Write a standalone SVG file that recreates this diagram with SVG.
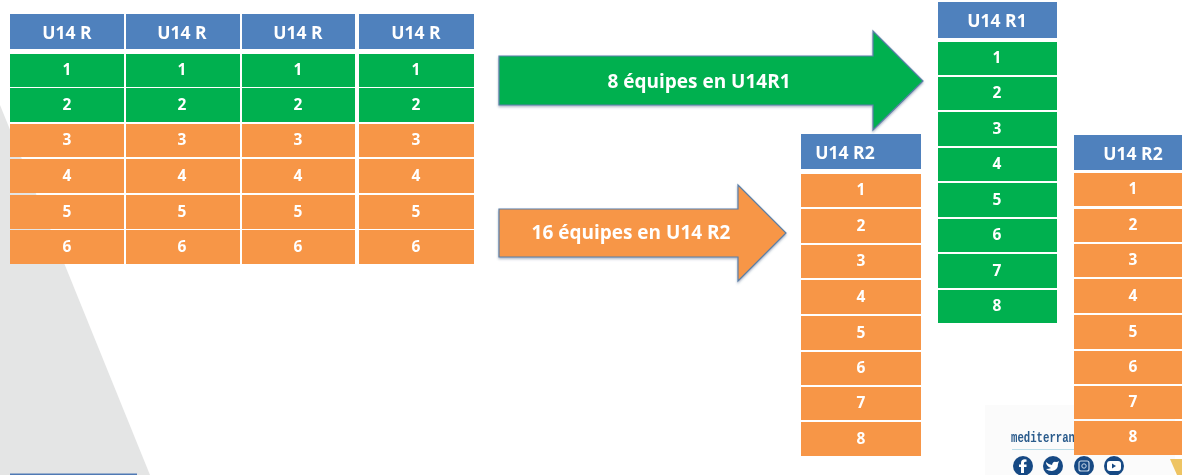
<svg xmlns="http://www.w3.org/2000/svg" width="1182" height="475" viewBox="0 0 1182 475">
<style>
text{font-family:"Open Sans","Noto Sans","Liberation Sans",sans-serif;font-weight:700;fill:#fff;text-anchor:middle;dominant-baseline:central}
.h{fill:#4f81bd}.g{fill:#00b050}.o{fill:#f79646}
.c{font-size:15.500px}.t{font-size:19px}
.hd{font-size:17.500px}
.ar{stroke:#5b7fa8;stroke-width:1.2;filter:url(#s)}
.ic{fill:#174a84}
</style>
<defs><filter id="s" x="-5%" y="-5%" width="110%" height="115%"><feDropShadow dx="0" dy="1.5" stdDeviation="1" flood-color="#40587a" flood-opacity=".45"/></filter>
<filter id="b"><feGaussianBlur stdDeviation=".6"/></filter></defs>
<rect width="1182" height="475" fill="#fff"/>
<polygon points="0,105 150,475 0,475" fill="#e4e5e5"/>
<rect x="10" y="473.500" width="127" height="1.500" fill="#2a5fa8" opacity=".8" filter="url(#b)"/>
<rect x="985" y="405" width="190" height="70" fill="#fbfbfb"/>
<polygon points="1170,459 1182,459 1182,475 1177,475" fill="#eec463"/>
<g id="logo" filter="url(#b)">
<text x="1011" y="438" textLength="64" lengthAdjust="spacingAndGlyphs" style="font-family:'Liberation Mono',monospace;font-size:14px;fill:#2a5b8c;text-anchor:start">mediterran</text>
<rect x="1012" y="449" width="62" height="1" fill="#bcdde8"/>
<circle class="ic" cx="1023" cy="466" r="10"/><circle class="ic" cx="1053" cy="466" r="10"/><circle class="ic" cx="1084" cy="466" r="10"/><circle class="ic" cx="1114" cy="466" r="10"/>
<path d="M1024 473v-6h2.500v-2.500h-2.500v-1.500q0-1.500 2.500-1.200v-2.300q-5.500-.8-5.500 3.500v1.500h-2v2.500h2v6z" fill="#fff"/>
<path d="M1046 462q3 3 6 3q1-4 4-3q2 0 3-1l-1 3q0 6-6 7q-4 0-6-2q3 0 5-1q-5-2-5-6z" fill="#fff"/>
<rect x="1079" y="461" width="10" height="10" rx="2" fill="none" stroke="#c9d8e8" stroke-width="1.200"/><circle cx="1084" cy="466" r="2.200" fill="none" stroke="#c9d8e8"/>
<rect x="1107" y="461" width="14" height="10" rx="3" fill="#fff"/><path d="M1112 463.500l4 2.500-4 2.500z" fill="#174a84"/>
</g>
<g id="table-u14r" filter="url(#b)">
<g id="head-r"><rect class="h" x="10" y="14" width="114" height="35"/><rect class="h" x="126" y="14" width="114" height="35"/><rect class="h" x="242" y="14" width="113" height="35"/><rect class="h" x="359" y="14" width="115" height="35"/>
<text class="hd" x="67" y="32">U14 R</text><text class="hd" x="182" y="32">U14 R</text><text class="hd" x="298" y="32">U14 R</text><text class="hd" x="416" y="32">U14 R</text></g>
<g id="row-1"><rect class="g" x="10" y="54" width="114" height="33"/><rect class="g" x="126" y="54" width="114" height="33"/><rect class="g" x="242" y="54" width="113" height="33"/><rect class="g" x="359" y="54" width="115" height="33"/>
<text class="c" x="67" y="69">1</text><text class="c" x="182" y="69">1</text><text class="c" x="298" y="69">1</text><text class="c" x="416" y="69">1</text></g>
<g id="row-2"><rect class="g" x="10" y="88" width="114" height="34"/><rect class="g" x="126" y="88" width="114" height="34"/><rect class="g" x="242" y="88" width="113" height="34"/><rect class="g" x="359" y="88" width="115" height="34"/>
<text class="c" x="67" y="104">2</text><text class="c" x="182" y="104">2</text><text class="c" x="298" y="104">2</text><text class="c" x="416" y="104">2</text></g>
<g id="row-3"><rect class="o" x="10" y="124" width="114" height="33"/><rect class="o" x="126" y="124" width="114" height="33"/><rect class="o" x="242" y="124" width="113" height="33"/><rect class="o" x="359" y="124" width="115" height="33"/>
<text class="c" x="67" y="139">3</text><text class="c" x="182" y="139">3</text><text class="c" x="298" y="139">3</text><text class="c" x="416" y="139">3</text></g>
<g id="row-4"><rect class="o" x="10" y="159" width="114" height="34"/><rect class="o" x="126" y="159" width="114" height="34"/><rect class="o" x="242" y="159" width="113" height="34"/><rect class="o" x="359" y="159" width="115" height="34"/>
<text class="c" x="67" y="175">4</text><text class="c" x="182" y="175">4</text><text class="c" x="298" y="175">4</text><text class="c" x="416" y="175">4</text></g>
<g id="row-5"><rect class="o" x="10" y="195" width="114" height="34"/><rect class="o" x="126" y="195" width="114" height="34"/><rect class="o" x="242" y="195" width="113" height="34"/><rect class="o" x="359" y="195" width="115" height="34"/>
<text class="c" x="67" y="211">5</text><text class="c" x="182" y="211">5</text><text class="c" x="298" y="211">5</text><text class="c" x="416" y="211">5</text></g>
<g id="row-6"><rect class="o" x="10" y="230" width="114" height="34"/><rect class="o" x="126" y="230" width="114" height="34"/><rect class="o" x="242" y="230" width="113" height="34"/><rect class="o" x="359" y="230" width="115" height="34"/>
<text class="c" x="67" y="246">6</text><text class="c" x="182" y="246">6</text><text class="c" x="298" y="246">6</text><text class="c" x="416" y="246">6</text></g>
</g>
<g id="connectors" filter="url(#b)">
<polygon class="g ar" points="499,56 873,56 873,31 923,81 873,130 873,105 499,105"/>
<polygon class="o ar" points="499,209 738,209 738,185 786,233 738,281 738,257 499,257"/>
<text class="t" x="699" y="81">8 équipes en U14R1</text>
<text class="t" x="631" y="232">16 équipes en U14 R2</text>
</g>
<g id="table-r2-a" filter="url(#b)">
<rect class="h" x="801" y="134" width="120" height="35"/><text class="hd" x="845" y="152">U14 R2</text>
<rect class="o" x="801" y="174" width="120" height="33"/><text class="c" x="861" y="189">1</text>
<rect class="o" x="801" y="209" width="120" height="34"/><text class="c" x="861" y="225">2</text>
<rect class="o" x="801" y="245" width="120" height="33"/><text class="c" x="861" y="260">3</text>
<rect class="o" x="801" y="280" width="120" height="34"/><text class="c" x="861" y="296">4</text>
<rect class="o" x="801" y="316" width="120" height="34"/><text class="c" x="861" y="332">5</text>
<rect class="o" x="801" y="352" width="120" height="33"/><text class="c" x="861" y="367">6</text>
<rect class="o" x="801" y="387" width="120" height="33"/><text class="c" x="861" y="402">7</text>
<rect class="o" x="801" y="422" width="120" height="34"/><text class="c" x="861" y="438">8</text>
</g>
<g id="table-r1" filter="url(#b)">
<rect class="h" x="938" y="2" width="119" height="36"/><text class="hd" x="997" y="20">U14 R1</text>
<rect class="g" x="938" y="42" width="119" height="33"/><text class="c" x="997" y="57">1</text>
<rect class="g" x="938" y="77" width="119" height="33"/><text class="c" x="997" y="92">2</text>
<rect class="g" x="938" y="112" width="119" height="34"/><text class="c" x="997" y="128">3</text>
<rect class="g" x="938" y="148" width="119" height="33"/><text class="c" x="997" y="163">4</text>
<rect class="g" x="938" y="183" width="119" height="34"/><text class="c" x="997" y="199">5</text>
<rect class="g" x="938" y="219" width="119" height="33"/><text class="c" x="997" y="234">6</text>
<rect class="g" x="938" y="254" width="119" height="34"/><text class="c" x="997" y="270">7</text>
<rect class="g" x="938" y="290" width="119" height="33"/><text class="c" x="997" y="305">8</text>
</g>
<g id="table-r2-b" filter="url(#b)">
<rect class="h" x="1074" y="135" width="110" height="35"/><text class="hd" x="1133" y="153">U14 R2</text>
<rect class="o" x="1074" y="173" width="110" height="33"/><text class="c" x="1133" y="188">1</text>
<rect class="o" x="1074" y="209" width="110" height="33"/><text class="c" x="1133" y="224">2</text>
<rect class="o" x="1074" y="244" width="110" height="33"/><text class="c" x="1133" y="259">3</text>
<rect class="o" x="1074" y="279" width="110" height="34"/><text class="c" x="1133" y="295">4</text>
<rect class="o" x="1074" y="315" width="110" height="34"/><text class="c" x="1133" y="331">5</text>
<rect class="o" x="1074" y="351" width="110" height="33"/><text class="c" x="1133" y="366">6</text>
<rect class="o" x="1074" y="386" width="110" height="33"/><text class="c" x="1133" y="401">7</text>
<rect class="o" x="1074" y="421" width="110" height="34"/><text class="c" x="1133" y="436">8</text>
</g>
</svg>
